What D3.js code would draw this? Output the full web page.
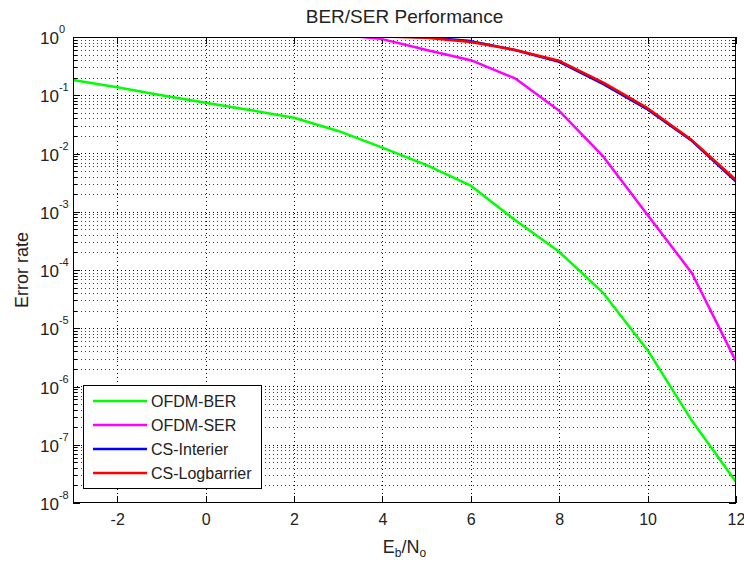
<!DOCTYPE html>
<html>
<head>
<meta charset="utf-8">
<script src="https://cdn.jsdelivr.net/npm/d3@7"></script>
<style>
  body { margin: 0; background: #fff; }
  text { font-family: "Liberation Sans", Arial, sans-serif; fill: #222; }
</style>
</head>
<body>
<div id="chart"></div>
<script>
(function () {

  // Eb/No values (dB) and measured error rates
  var ebno = [-3, -2, -1, 0, 1, 2, 3, 4, 5, 6, 7, 8, 9, 10, 11, 12];
  var ofdmBer = [0.183, 0.137, 0.1, 0.0745, 0.056, 0.041, 0.0244, 0.0126, 0.0063, 0.0028, 0.00072, 0.000205, 0.00004, 0.0000042, 0.00000026, 0.000000023];

  var serEbno = [3, 4, 5, 6, 7, 8, 9, 10, 11, 12];
  var ofdmSer = [1.1, 0.92, 0.6, 0.4, 0.195, 0.054, 0.0088, 0.00088, 0.000089, 0.0000027];

  var csEbno = [4, 5, 6, 7, 8, 9, 10, 11, 12];
  var csInterier = [1.04, 0.99, 0.85, 0.6, 0.375, 0.155, 0.057, 0.0165, 0.0033];
  var csLogbarrier = [1.02, 0.97, 0.82, 0.6, 0.39, 0.165, 0.06, 0.017, 0.0035];

  var seriesNames = ["OFDM-BER", "OFDM-SER", "CS-Interier", "CS-Logbarrier"];
  var seriesColors = ["#00ff00", "#ff00ff", "#0000ff", "#ff0000"];

  var xTicks = [-2, 0, 2, 4, 6, 8, 10, 12];
  var yExponents = [-8, -7, -6, -5, -4, -3, -2, -1, 0];

  var w = 744;
  var h = 563;
  var margin = { top: 37, right: 8, bottom: 60, left: 73 };

  var svg = d3.select("#chart")
    .append("svg")
    .attr("width", w)
    .attr("height", h);

  svg.append("rect").attr("width", w).attr("height", h).attr("fill", "#fff");

  var x = d3.scaleLinear().domain([-3, 12]).range([margin.left, w - margin.right]);
  var y = d3.scaleLog().domain([1e-8, 1]).range([h - margin.bottom, margin.top]);

  var x0 = x.range()[0], x1 = x.range()[1];
  var y0 = y.range()[1], y1 = y.range()[0];

  // minor + major log positions
  var majorY = yExponents.map(function (e) { return Math.pow(10, e); });
  var minorY = [];
  yExponents.slice(0, -1).forEach(function (e) {
    for (var m = 2; m <= 9; m++) minorY.push(m * Math.pow(10, e));
  });

  // dotted grid
  var grid = svg.append("g")
    .attr("stroke", "#000")
    .attr("stroke-width", 1)
    .attr("stroke-dasharray", "1,3")
    .attr("shape-rendering", "crispEdges");

  grid.selectAll(".gx")
    .data(xTicks.filter(function (d) { return d > -3 && d < 12; }))
    .enter().append("line")
    .attr("x1", function (d) { return Math.round(x(d)) + 0.5; })
    .attr("x2", function (d) { return Math.round(x(d)) + 0.5; })
    .attr("y1", y0)
    .attr("y2", y1);

  grid.selectAll(".gy")
    .data(majorY.concat(minorY).filter(function (d) { return d > 1e-8 && d < 1; }))
    .enter().append("line")
    .attr("x1", x0)
    .attr("x2", x1)
    .attr("y1", function (d) { return Math.round(y(d)) + 0.5; })
    .attr("y2", function (d) { return Math.round(y(d)) + 0.5; })
    .attr("stroke-opacity", function (d) { return majorY.indexOf(d) >= 0 ? 1 : 0.75; });

  // axes with inward ticks
  var axes = svg.append("g");
  axes.append("g")
    .attr("transform", "translate(0," + y1 + ")")
    .call(d3.axisBottom(x).tickValues(xTicks).tickSize(-7).tickPadding(11)
      .tickFormat(function (d) { return String(d); }));
  axes.append("g")
    .attr("transform", "translate(0," + y0 + ")")
    .call(d3.axisTop(x).tickValues(xTicks).tickSize(-7).tickFormat(""));
  axes.append("g")
    .attr("transform", "translate(" + x0 + ",0)")
    .call(d3.axisLeft(y).tickValues(majorY).tickSize(-7).tickFormat(""));
  axes.append("g")
    .attr("transform", "translate(" + x0 + ",0)")
    .call(d3.axisLeft(y).tickValues(minorY).tickSize(-4).tickFormat(""));
  axes.append("g")
    .attr("transform", "translate(" + x1 + ",0)")
    .call(d3.axisRight(y).tickValues(majorY).tickSize(-7).tickFormat(""));
  axes.append("g")
    .attr("transform", "translate(" + x1 + ",0)")
    .call(d3.axisRight(y).tickValues(minorY).tickSize(-4).tickFormat(""));

  axes.selectAll(".domain").remove();
  axes.selectAll("line").attr("stroke", "#000").attr("shape-rendering", "crispEdges");
  axes.selectAll("text")
    .style("font-family", "Liberation Sans, Arial, sans-serif")
    .style("font-size", "16px")
    .attr("fill", "#222");

  // y tick labels 10^k
  var yl = svg.append("g").selectAll("text")
    .data(yExponents)
    .enter().append("text")
    .attr("x", 40)
    .attr("y", function (d) { return y(Math.pow(10, d)) + 7; })
    .style("font-size", "17px");
  yl.append("tspan").text("10");
  yl.append("tspan")
    .attr("dy", -11)
    .style("font-size", "11px")
    .text(function (d) { return d === 0 ? "0" : "-" + Math.abs(d); });

  // curves
  var plot = svg.append("g").attr("clip-path", "url(#clip)");
  svg.append("clipPath").attr("id", "clip")
    .append("rect")
    .attr("x", x0).attr("y", y0)
    .attr("width", x1 - x0).attr("height", y1 - y0);

  var series = [
    { xs: ebno, ys: ofdmBer },
    { xs: serEbno, ys: ofdmSer },
    { xs: csEbno, ys: csInterier },
    { xs: csEbno, ys: csLogbarrier }
  ];

  var line = d3.line()
    .x(function (d) { return x(d[0]); })
    .y(function (d) { return y(d[1]); });

  series.forEach(function (s, i) {
    plot.append("path")
      .datum(d3.zip(s.xs, s.ys))
      .attr("d", line)
      .attr("fill", "none")
      .attr("stroke", seriesColors[i])
      .attr("stroke-width", 2.5)
      .attr("stroke-linejoin", "round");
  });

  // frame
  svg.append("rect")
    .attr("x", x0 + 0.5).attr("y", y0 + 0.5)
    .attr("width", x1 - x0 - 1).attr("height", y1 - y0 - 1)
    .attr("fill", "none")
    .attr("stroke", "#000")
    .attr("shape-rendering", "crispEdges");

  // legend
  var lg = svg.append("g");
  lg.append("rect")
    .attr("x", 83.5).attr("y", 385.5)
    .attr("width", 178).attr("height", 103)
    .attr("fill", "#fff")
    .attr("stroke", "#000")
    .attr("shape-rendering", "crispEdges");

  var rows = lg.selectAll(".row")
    .data(seriesNames)
    .enter().append("g")
    .attr("transform", function (d, i) { return "translate(0," + [401, 425, 449, 473][i] + ")"; });
  rows.append("line")
    .attr("x1", 93).attr("x2", 147)
    .attr("stroke", function (d, i) { return seriesColors[i]; })
    .attr("stroke-width", 2.5);
  rows.append("text")
    .attr("x", 151).attr("y", 6)
    .style("font-size", "16px")
    .text(function (d) { return d; });

  // titles
  svg.append("text")
    .attr("x", (x0 + x1) / 2).attr("y", 23)
    .attr("text-anchor", "middle")
    .style("font-size", "19px")
    .text("BER/SER Performance");

  svg.append("text")
    .attr("transform", "translate(28," + (y0 + y1) / 2 + ") rotate(-90)")
    .attr("text-anchor", "middle")
    .style("font-size", "18px")
    .text("Error rate");

  var xl = svg.append("text")
    .attr("x", (x0 + x1) / 2).attr("y", 553)
    .attr("text-anchor", "middle")
    .style("font-size", "18px");
  xl.append("tspan").text("E");
  xl.append("tspan").attr("dy", 4).style("font-size", "12px").text("b");
  xl.append("tspan").attr("dy", -4).text("/N");
  xl.append("tspan").attr("dy", 4).style("font-size", "12px").text("o");

})();
</script>
</body>
</html>
